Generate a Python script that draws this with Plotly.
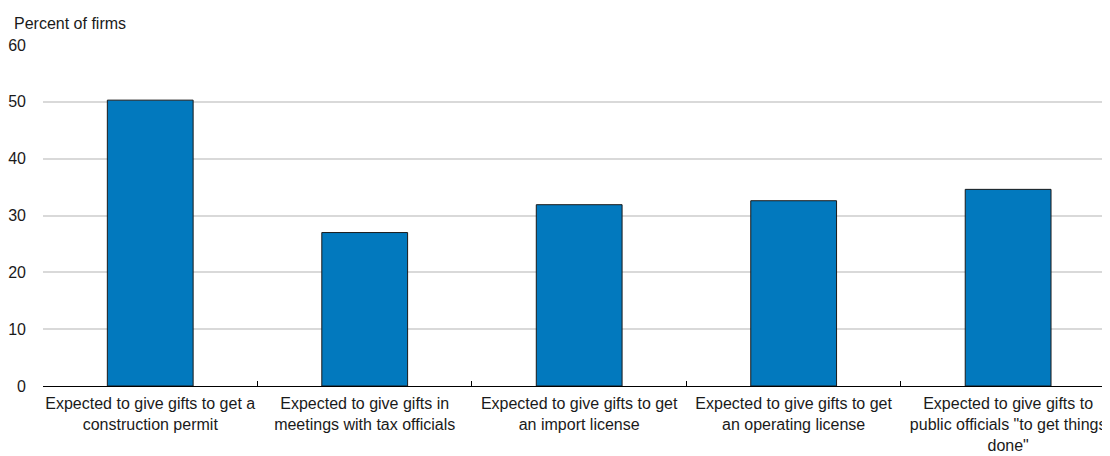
import plotly.graph_objects as go

# Chart data
categories = [
    "Expected to give gifts to get a<br>construction permit",
    "Expected to give gifts in<br>meetings with tax officials",
    "Expected to give gifts to get<br>an import license",
    "Expected to give gifts to get<br>an operating license",
    "Expected to give gifts to<br>public officials \"to get things<br>done\"",
]
values = [50.3, 27.0, 31.9, 32.6, 34.6]
y_ticks = [0, 10, 20, 30, 40, 50, 60]

font_family = "Liberation Sans, Arial, sans-serif"
text_color = "#1a1a1a"

fig = go.Figure(
    go.Bar(
        x=categories,
        y=values,
        marker=dict(color="#0279BE", line=dict(color="#1a1a1a", width=1)),
        hovertemplate="%{x}<br>%{y:.1f}%<extra></extra>",
    )
)

# page body adds an 8px margin, so the figure is a little smaller than the window
fig.update_layout(
    width=1102,
    height=448,
    margin=dict(l=35, r=0, t=37, b=70),
    plot_bgcolor="white",
    paper_bgcolor="white",
    bargap=0.6,
    showlegend=False,
    font=dict(family=font_family, size=16, color=text_color),
    annotations=[
        dict(
            text="Percent of firms",
            xref="paper", yref="paper",
            x=-0.029, y=1.0, yshift=11,
            xanchor="left", yanchor="bottom",
            showarrow=False,
            font=dict(family=font_family, size=16, color=text_color),
        )
    ],
)

fig.update_xaxes(
    range=[-0.5, 4.475],
    automargin=False,
    tickangle=0,
    showline=True,
    linecolor="#000000",
    linewidth=1,
    ticks="inside",
    ticklen=5,
    tickcolor="#000000",
    tickson="boundaries",
    ticklabelstandoff=3,
    showgrid=False,
    tickfont=dict(family=font_family, size=16, color=text_color),
)

fig.update_yaxes(
    range=[0, 60],
    automargin=False,
    tickvals=y_ticks,
    showgrid=True,
    gridcolor="#d9d9d9",
    gridwidth=1.5,
    zeroline=False,
    showline=False,
    ticks="",
    ticklabelstandoff=16,
    tickfont=dict(family=font_family, size=16, color=text_color),
)

fig.write_html("out.html")
